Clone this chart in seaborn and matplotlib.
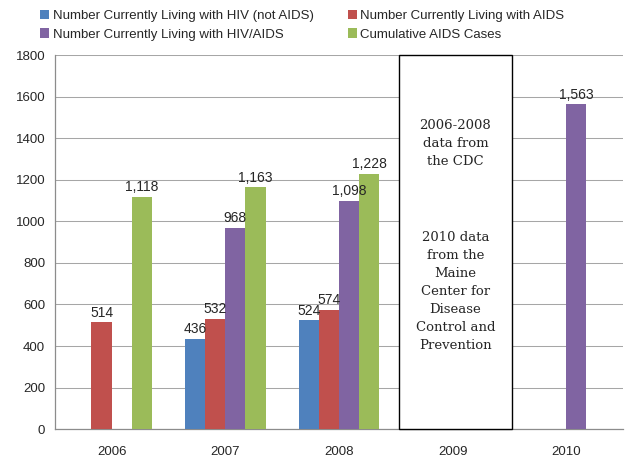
import numpy as np
import pandas as pd
import matplotlib
matplotlib.use('Agg')
import matplotlib.pyplot as plt
import seaborn as sns

#%% Data

years = ['2006', '2007', '2008', '2009', '2010']
series = ['Number Currently Living with HIV (not AIDS)',
          'Number Currently Living with AIDS',
          'Number Currently Living with HIV/AIDS',
          'Cumulative AIDS Cases']
hiv_not_aids = [np.nan, 436, 524, np.nan, np.nan]
living_aids = [514, 532, 574, np.nan, np.nan]
hiv_aids = [np.nan, 968, 1098, np.nan, 1563]
cumulative = [1118, 1163, 1228, np.nan, np.nan]
colors = ['#4F81BD', '#C0504D', '#8064A2', '#9BBB59']

note1 = '2006-2008\ndata from\nthe CDC'
note2 = '2010 data\nfrom the\nMaine\nCenter for\nDisease\nControl and\nPrevention'

#%% Long format

rows = []
for name, vals in zip(series, [hiv_not_aids, living_aids, hiv_aids, cumulative]):
    for yr, v in zip(years, vals):
        if not np.isnan(v):
            rows.append({'Year': yr, 'Series': name, 'Value': v})
df = pd.DataFrame(rows)

#%% Plot

sns.set_style('white')
plt.rcParams['font.family'] = ['Liberation Sans', 'DejaVu Sans']

fig = plt.figure(figsize=(6.3, 4.67), dpi=100)
ax = fig.add_axes([0.087, 0.081, 0.902, 0.801])

sns.barplot(data=df, x='Year', y='Value', hue='Series', order=years,
            hue_order=series, palette=colors, width=0.71, saturation=1,
            errorbar=None, linewidth=0, ax=ax, zorder=3)

for cont in ax.containers:
    labels = ['{:,.0f}'.format(v) for v in cont.datavalues]
    ax.bar_label(cont, labels=labels, padding=2, fontsize=10)

ax.set_xlim(-0.5, 4.5)
ax.set_ylim(0, 1800)
ax.set_yticks(np.arange(0, 1801, 200))
ax.set_xlabel('')
ax.set_ylabel('')
ax.grid(axis='y', color='#a6a6a6', linewidth=0.75, zorder=0)
ax.set_axisbelow(True)
for s in ['top', 'right']:
    ax.spines[s].set_visible(False)
for s in ['left', 'bottom']:
    ax.spines[s].set_color('#8c8c8c')
    ax.spines[s].set_linewidth(0.9)
ax.tick_params(axis='y', length=4, color='#8c8c8c', labelsize=9.5, pad=3)
ax.tick_params(axis='x', length=0, labelsize=9.5, pad=12)
ax.set_xticks(np.arange(-0.5, 4.6, 1), minor=True)
ax.tick_params(axis='x', which='minor', length=5, color='#8c8c8c')

# note box over 2009
ax.add_patch(plt.Rectangle((2.53, 0), 0.99, 1800, facecolor='white',
                           edgecolor='black', linewidth=1.0, zorder=4,
                           clip_on=False))
ax.text(3.025, 1376, note1, ha='center', va='center', family='DejaVu Serif',
        fontsize=9.5, linespacing=1.5, zorder=5)
ax.text(3.025, 664, note2, ha='center', va='center', family='DejaVu Serif',
        fontsize=9.5, linespacing=1.5, zorder=5)

handles, labs = ax.get_legend_handles_labels()
ax.get_legend().remove()
idx = [0, 2, 1, 3]
fig.legend([handles[i] for i in idx], [labs[i] for i in idx], ncol=2,
           loc='upper left', bbox_to_anchor=(0.045, 1.005), frameon=False,
           fontsize=9.5, handlelength=0.7, handleheight=0.7,
           handletextpad=0.25, columnspacing=2.6, labelspacing=0.5)

fig.savefig('out.png', dpi=100)
